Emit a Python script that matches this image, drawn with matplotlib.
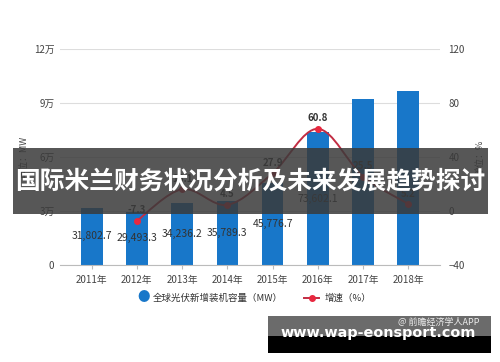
# 全球光伏新增装机容量 + 增速 chart with overlay banner
import numpy as np
import matplotlib
matplotlib.use("Agg")
import matplotlib.pyplot as plt
from matplotlib.path import Path
from matplotlib.patches import PathPatch, Rectangle

plt.rcParams["font.family"] = ["Noto Sans CJK SC", "DejaVu Sans"]

# =========================
# DATA
# =========================
YEARS = ["2011年", "2012年", "2013年", "2014年", "2015年", "2016年", "2017年", "2018年"]
CAPACITY = [31802.7, 29493.3, 34236.2, 35789.3, 45776.7, 73602.1, 92000.0, 96800.0]
GROWTH_YEARS = ["2012年", "2013年", "2014年", "2015年", "2016年", "2017年", "2018年"]
GROWTH = [-7.3, 16.1, 4.5, 27.9, 60.8, 25.5, 5.2]
LEFT_TICKS = [0, 30000, 60000, 90000, 120000]
LEFT_TICK_LABELS = ["0", "3万", "6万", "9万", "12万"]
RIGHT_TICKS = [-40, 0, 40, 80, 120]

BAR_COLOR = "#1877c9"
LINE_COLOR = "#c22d43"
MARK_COLOR = "#e8283f"
TEXT_COLOR = "#444444"

# =========================
# FIGURE
# =========================
FIG = plt.figure(figsize=(5.0, 3.62), dpi=100)
AX = FIG.add_axes([0.12, 0.268, 0.76, 0.597])
AX2 = AX.twinx()

X = np.arange(len(YEARS))
AX.bar(X, CAPACITY, width=0.48, color=BAR_COLOR, zorder=2)
AX.set_ylim(0, 120000)
AX.set_xlim(-0.7, len(YEARS) - 0.3)
AX.set_yticks(LEFT_TICKS)
AX.set_yticklabels(LEFT_TICK_LABELS)
AX.set_xticks(X)
AX.set_xticklabels(YEARS)
AX.grid(axis="y", color="#dddddd", linewidth=0.8, zorder=0)
AX.set_axisbelow(True)
for S in ["top", "right", "left"]:
    AX.spines[S].set_visible(False)
    AX2.spines[S].set_visible(False)
AX2.spines["bottom"].set_visible(False)
AX.spines["bottom"].set_color("#bbbbbb")
AX.tick_params(axis="both", length=0, labelsize=7, colors=TEXT_COLOR, pad=4)
AX.tick_params(axis="x", length=3, color="#bbbbbb")
AX.set_ylabel("单位：MW", fontsize=6.5, color=TEXT_COLOR, labelpad=4)

for XI, V in zip(X, CAPACITY):
    if XI < 6:
        AX.text(XI, V / 2, f"{V:,.1f}", ha="center", va="center",
                fontsize=7.5, color="#333333", zorder=4)

# growth line (smooth bezier through the points)
GX = np.array([YEARS.index(Y) for Y in GROWTH_YEARS], dtype=float)
GY = np.array(GROWTH, dtype=float)
VERTS = [(GX[0], GY[0])]
CODES = [Path.MOVETO]
for I in range(len(GX) - 1):
    P0 = (GX[max(I - 1, 0)], GY[max(I - 1, 0)])
    P1 = (GX[I], GY[I])
    P2 = (GX[I + 1], GY[I + 1])
    P3 = (GX[min(I + 2, len(GX) - 1)], GY[min(I + 2, len(GX) - 1)])
    C1 = (P1[0] + (P2[0] - P0[0]) / 6, P1[1] + (P2[1] - P0[1]) / 6)
    C2 = (P2[0] - (P3[0] - P1[0]) / 6, P2[1] - (P3[1] - P1[1]) / 6)
    VERTS += [C1, C2, P2]
    CODES += [Path.CURVE4] * 3
AX2.add_patch(PathPatch(Path(VERTS, CODES), facecolor="none",
                        edgecolor=LINE_COLOR, linewidth=1.4, zorder=3))
AX2.plot(GX, GY, "o", color=MARK_COLOR, markersize=4, zorder=4)
for XI, V in zip(GX, GY):
    AX2.text(XI, V + 4, f"{V:.1f}", ha="center", va="bottom",
             fontsize=7, fontweight="bold", color="#333333", zorder=5)

AX2.set_ylim(-40, 120)
AX2.set_yticks(RIGHT_TICKS)
AX2.tick_params(axis="y", length=0, labelsize=7, colors=TEXT_COLOR, pad=6)
AX2.set_ylabel("单位：%", fontsize=6.5, color=TEXT_COLOR, labelpad=8)

# =========================
# LEGEND
# =========================
FIG.text(0.287, 0.177, "●", fontsize=9, color=BAR_COLOR, ha="center", va="center")
FIG.text(0.306, 0.177, "全球光伏新增装机容量（MW）", fontsize=6.8, color="#333333",
         ha="left", va="center")
FIG.add_artist(plt.Line2D([0.608, 0.638], [0.177, 0.177], color=LINE_COLOR,
                          linewidth=1.4, transform=FIG.transFigure))
FIG.add_artist(plt.Line2D([0.623], [0.177], marker="o", markersize=4,
                          color=MARK_COLOR, transform=FIG.transFigure))
FIG.text(0.65, 0.177, "增速（%）", fontsize=6.8, color="#333333", ha="left", va="center")

# =========================
# BANNER + WATERMARK BOX
# =========================
FIG.add_artist(Rectangle((0.026, 1 - 214 / 362), 0.95, 66 / 362,
                         transform=FIG.transFigure, facecolor="#3a3a3a",
                         alpha=0.85, edgecolor="none", zorder=10))
FIG.text(0.5, 1 - 181 / 362, "国际米兰财务状况分析及未来发展趋势探讨",
         fontsize=17.8, fontweight="bold", color="white", ha="center",
         va="center", zorder=11)

FIG.add_artist(Rectangle((268 / 500, 1 - 336 / 362), 223 / 500, 20 / 362,
                         transform=FIG.transFigure, facecolor="#6b6b6b",
                         edgecolor="none", zorder=10))
FIG.add_artist(Rectangle((268 / 500, 1 - 353 / 362), 223 / 500, 17 / 362,
                         transform=FIG.transFigure, facecolor="#000000",
                         edgecolor="none", zorder=10))
FIG.text(480 / 500, 1 - 322 / 362, "@ 前瞻经济学人APP", fontsize=6.5,
         color="#eeeeee", ha="right", va="center", zorder=11)
FIG.text(378 / 500, 1 - 333 / 362, "www.wap-eonsport.com", fontsize=10.4,
         fontweight="bold", color="white", ha="center", va="center",
         family="DejaVu Sans", zorder=11)

FIG.savefig("out.png", dpi=100)
